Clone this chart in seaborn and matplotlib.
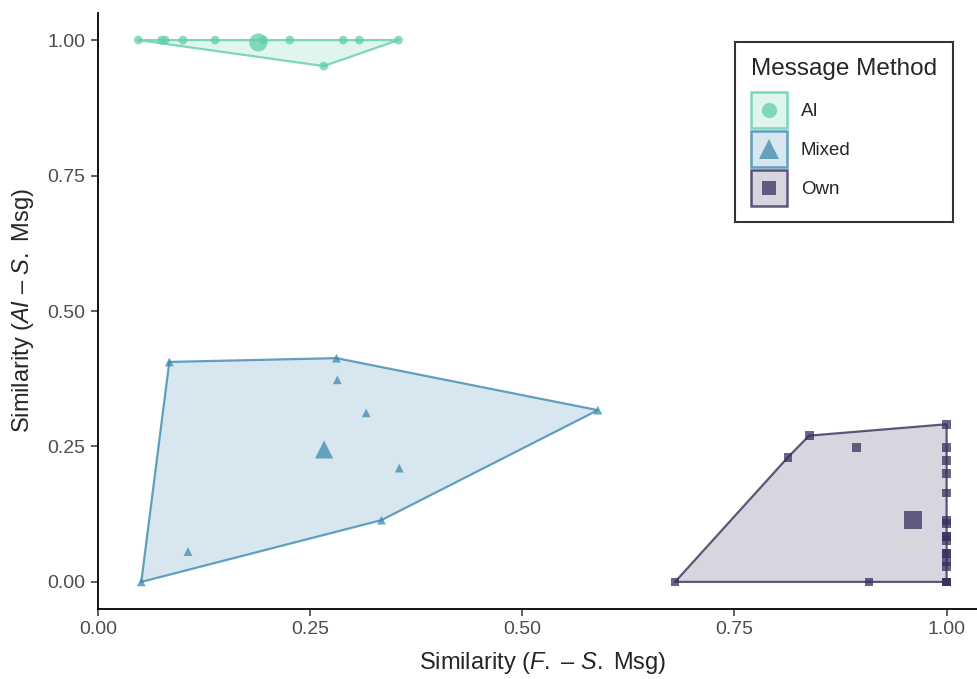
import numpy as np
import pandas as pd
import matplotlib
matplotlib.use("Agg")
import matplotlib.pyplot as plt
import seaborn as sns
from matplotlib.patches import Rectangle
from matplotlib.lines import Line2D
from matplotlib.legend_handler import HandlerBase

# Values
methods = ["AI", "Mixed", "Own"]

ai_x = [0.0475, 0.075, 0.079, 0.100, 0.138, 0.195, 0.226, 0.289, 0.308, 0.354, 0.266]
ai_y = [1.0, 1.0, 1.0, 1.0, 1.0, 1.0, 1.0, 1.0, 1.0, 1.0, 0.952]

mixed_x = [0.084, 0.281, 0.282, 0.316, 0.589, 0.355, 0.334, 0.106, 0.051]
mixed_y = [0.406, 0.413, 0.373, 0.312, 0.317, 0.210, 0.114, 0.056, 0.0]

own_x = [0.680, 0.9085, 0.813, 0.838, 0.894,
         1.0, 1.0, 1.0, 1.0, 1.0, 1.0, 1.0, 1.0, 1.0,
         1.0, 1.0, 1.0, 1.0, 1.0, 1.0, 1.0, 1.0]
own_y = [0.0, 0.0, 0.230, 0.270, 0.248,
         0.291, 0.248, 0.224, 0.2005, 0.164, 0.114, 0.108, 0.084, 0.084,
         0.077, 0.053, 0.053, 0.037, 0.028, 0.0, 0.0, 0.0]

palette = {"AI": "#60CEAC", "Mixed": "#3E8AB0", "Own": "#3B2F5E"}
markers = {"AI": "o", "Mixed": "^", "Own": "s"}
legend_marker_size = {"AI": 11, "Mixed": 15, "Own": 10}

x_ticks = [0.0, 0.25, 0.5, 0.75, 1.0]
y_ticks = [0.0, 0.25, 0.5, 0.75, 1.0]


def convex_hull(pts):
    # monotone chain
    pts = sorted(set(map(tuple, pts)))
    if len(pts) < 3:
        return pts

    def cross(o, a, b):
        return (a[0] - o[0]) * (b[1] - o[1]) - (a[1] - o[1]) * (b[0] - o[0])

    lower, upper = [], []
    for p in pts:
        while len(lower) >= 2 and cross(lower[-2], lower[-1], p) <= 0:
            lower.pop()
        lower.append(p)
    for p in reversed(pts):
        while len(upper) >= 2 and cross(upper[-2], upper[-1], p) <= 0:
            upper.pop()
        upper.append(p)
    return lower[:-1] + upper[:-1]


# legend key: filled square with outline and the group marker in the middle
class KeyHandler(HandlerBase):
    def create_artists(self, legend, orig, xdescent, ydescent, width, height, fontsize, trans):
        color = orig.get_markerfacecolor()
        x0, y0 = -xdescent, -ydescent
        fill = Rectangle((x0, y0), width, height, facecolor=color, alpha=0.2,
                         edgecolor="none", transform=trans)
        edge = Rectangle((x0, y0), width, height, facecolor="none", edgecolor=color,
                         alpha=0.8, lw=1.8, transform=trans)
        mark = Line2D([x0 + width / 2], [y0 + height / 2], linestyle="none",
                      marker=orig.get_marker(), markersize=orig.get_markersize(),
                      markerfacecolor=color, markeredgewidth=0, alpha=0.75,
                      transform=trans)
        return [fill, edge, mark]


df = pd.concat([
    pd.DataFrame({"x": ai_x, "y": ai_y, "method": "AI"}),
    pd.DataFrame({"x": mixed_x, "y": mixed_y, "method": "Mixed"}),
    pd.DataFrame({"x": own_x, "y": own_y, "method": "Own"}),
], ignore_index=True)
centroids = df.groupby("method")[["x", "y"]].mean().reset_index()

sns.set_style("ticks")
plt.rcParams["font.family"] = ["Liberation Sans", "DejaVu Sans"]
plt.rcParams["mathtext.fontset"] = "custom"
plt.rcParams["mathtext.rm"] = "Liberation Sans"
plt.rcParams["mathtext.it"] = "Liberation Sans:italic"

fig = plt.figure(figsize=(9.77, 6.79), dpi=100)
# panel runs a little past the right edge of the picture, as in the reference
ax = fig.add_axes([98 / 977, 70 / 679, (987 - 98) / 977, (609 - 13) / 679])

# hulls
for m in methods:
    sub = df[df["method"] == m]
    hull = np.array(convex_hull(sub[["x", "y"]].values))
    ax.fill(hull[:, 0], hull[:, 1], facecolor=palette[m], alpha=0.2, edgecolor="none", zorder=1)
    closed = np.vstack([hull, hull[:1]])
    ax.plot(closed[:, 0], closed[:, 1], color=palette[m], alpha=0.8, lw=1.6, zorder=2)

sns.scatterplot(data=df, x="x", y="y", hue="method", style="method",
                palette=palette, markers=markers, s=40, alpha=0.75,
                linewidth=0, legend=False, ax=ax, zorder=3)
sns.scatterplot(data=centroids, x="x", y="y", hue="method", style="method",
                palette=palette, markers=markers, s=170, alpha=0.75,
                linewidth=0, legend=False, ax=ax, zorder=4)

ax.set_xlim(0.0, 1.0476)
ax.set_ylim(-0.05, 1.05)
ax.set_xticks(x_ticks)
ax.set_yticks(y_ticks)
ax.set_xticklabels([f"{t:.2f}" for t in x_ticks])
ax.set_yticklabels([f"{t:.2f}" for t in y_ticks])
ax.tick_params(axis="both", labelsize=14, labelcolor="#4D4D4D", color="#333333",
               length=5, width=1.1, pad=4)
for side in ["top", "right"]:
    ax.spines[side].set_visible(False)
for side in ["left", "bottom"]:
    ax.spines[side].set_linewidth(1.3)
    ax.spines[side].set_color("black")

ax.set_xlabel(r"$\mathrm{Similarity\ (}\mathit{F.}\mathrm{\ –\ }\mathit{S.}\mathrm{\ Msg)}$",
              fontsize=17, labelpad=8)
ax.set_ylabel(r"$\mathrm{Similarity\ (}\mathit{AI}\mathrm{\ –\ }\mathit{S.}\mathrm{\ Msg)}$",
              fontsize=17, labelpad=8)

handles = [Line2D([], [], marker=markers[m], markersize=legend_marker_size[m],
                  markerfacecolor=palette[m], linestyle="none") for m in methods]

leg = fig.legend(handles, methods, title="Message Method",
                 handler_map={Line2D: KeyHandler()},
                 loc="upper right", bbox_to_anchor=(953 / 977, 1 - 42 / 679),
                 fontsize=13.5, title_fontsize=17.5, frameon=True, fancybox=False,
                 edgecolor="black", handlelength=1.92, handleheight=2.58,
                 handletextpad=0.75, labelspacing=0.15, borderpad=0.85,
                 alignment="left", borderaxespad=0)
leg.get_frame().set_linewidth(1.5)
# more room between the legend title and the keys
leg._legend_box.sep = 9

fig.savefig("out.png", dpi=100)
